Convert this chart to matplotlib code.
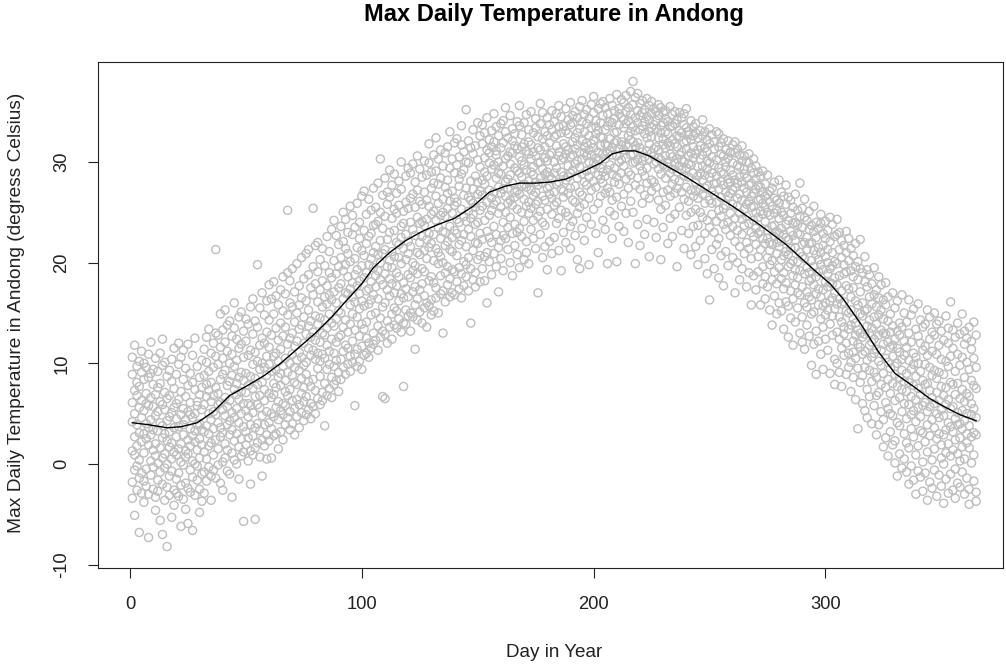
import matplotlib
matplotlib.use("Agg")
import matplotlib.pyplot as plt


# daily max temperatures, one row per day of the year (Jan 1 = day 1)
jan = [
    [4.2, -1.8, 8.9, 1.3, 6.1, -3.4, 10.6],
    [2.7, 7.3, -0.6, 5.0, 11.8, 0.9, -5.1],
    [3.9, 9.7, -2.6, 6.8, 1.8, -0.2, 8.1],
    [0.4, 5.6, 10.2, -1.4, 3.1, 7.7, -6.8],
    [6.3, -2.9, 2.2, 9.1, 4.6, -0.9, 11.2],
    [1.1, 8.4, -1.7, 5.3, 3.0, 10.0, -3.8],
    [-0.5, 4.0, 7.0, 2.5, 9.6, -2.2, 6.0],
    [5.8, 1.9, -3.0, 8.6, 3.6, -7.3, 10.9],
    [2.9, 6.6, -1.1, 0.3, 9.0, 4.4, 12.1],
    [-2.5, 3.4, 7.9, 1.4, 5.7, -0.3, 9.4],
    [4.8, 0.8, 10.5, -3.3, 6.9, 2.0, -4.6],
    [7.6, -1.6, 3.3, 9.2, 0.1, 5.2, -2.7],
    [1.6, 6.2, -0.8, 4.1, 11.0, 8.0, -5.6],
    [-2.0, 2.6, 5.9, 9.8, 0.6, 3.8, 12.4, -7.0],
    [3.0, 7.1, -3.6, 1.0, 5.4, 10.1, -0.4],
    [6.5, 0.0, 2.3, -2.3, 8.7, 4.3, -8.2],
    [-1.2, 4.7, 9.3, 1.7, 6.8, -3.1, 3.2],
    [2.1, 8.2, 5.1, -0.7, 10.4, 0.5, -5.3],
    [5.6, -2.6, 3.6, 7.5, 1.2, 11.5, -4.1],
    [0.9, 6.0, -1.5, 4.5, 8.9, 2.7, -2.9],
    [3.7, 9.9, 1.5, -0.9, 6.4, -3.2, 12.0],
    [7.2, 2.0, 4.9, -2.1, 0.2, 10.6, -6.2],
    [-0.1, 5.5, 8.4, 2.9, -3.5, 3.9, 11.3],
    [4.4, 1.3, 6.7, -1.9, 9.5, -4.5, 0.7],
    [2.4, 7.8, -2.4, 5.2, 11.9, 1.0, -5.9],
    [6.1, -0.6, 3.5, 9.0, 1.8, -2.8, 4.9],
    [0.3, 4.6, 8.1, -1.3, 10.8, 2.8, -6.6],
    [5.0, 2.2, -3.1, 7.4, 0.0, 12.5, 3.3],
    [-1.6, 3.9, 6.2, 9.7, 1.4, -0.2, 5.8],
    [4.0, 8.6, 0.6, -2.5, 6.9, 2.5, -4.8],
    [1.9, 5.4, 10.3, -1.0, 3.4, 7.6, -3.7],
]

feb = [
    [3.2, 8.8, -0.8, 5.9, 11.4, 1.2, -2.9],
    [6.7, 0.5, 10.1, 3.8, -1.7, 12.6, 7.9],
    [1.8, 5.0, 9.2, -0.3, 3.0, 7.3, 13.4],
    [8.1, -1.2, 4.4, 11.0, 2.1, 6.2, -3.6],
    [0.9, 6.8, 12.0, 3.5, 9.6, -0.6, 5.2],
    [4.9, 10.7, 2.4, 7.6, -1.4, 21.3, 13.0],
    [7.0, 1.5, 9.9, 4.1, 12.8, -0.1, 5.9],
    [2.7, 11.6, 6.1, -1.9, 8.4, 3.6, 14.9],
    [5.4, 0.2, 8.9, 13.3, 3.1, 10.5, -2.6],
    [9.3, 2.0, 6.6, 0.6, 12.1, 4.8, 15.3],
    [3.9, 7.8, -0.7, 11.2, 5.7, 1.4, 13.8],
    [6.3, 10.0, 2.9, 14.2, -1.0, 8.2, 4.3],
    [1.1, 5.1, 12.7, 8.8, 3.4, 10.9, -3.3],
    [7.4, 0.4, 4.6, 13.5, 9.7, 2.3, 16.0],
    [10.3, 3.0, 6.9, 0.0, 12.4, 5.5, 8.0],
    [4.1, 8.6, 1.7, 14.6, 6.4, -1.5, 11.5],
    [2.5, 11.9, 7.2, 5.0, 9.1, 0.8, 15.1],
    [6.0, 3.7, 13.2, -5.7, 8.3, 1.2, 10.6],
    [9.0, 1.9, 5.3, 12.2, 3.2, 14.4, 7.1],
    [4.7, 10.8, 0.3, 7.8, 2.6, 13.9, 6.0],
    [1.3, 8.7, 5.8, 15.6, 3.9, 11.3, -2.0],
    [7.5, 2.8, 12.9, 9.9, 0.9, 5.1, 16.4],
    [3.6, 11.1, -5.5, 6.7, 14.2, 8.5, 1.6],
    [10.2, 5.9, 2.1, 13.6, 7.9, 19.8, 4.0],
    [6.8, 0.7, 9.4, 3.3, 15.5, 11.8, 5.6],
    [2.4, 8.1, 12.5, 4.8, 10.0, -1.2, 17.0],
    [9.6, 3.9, 6.3, 14.8, 1.8, 12.0, 7.4],
    [5.2, 13.1, 2.9, 8.8, 16.2, 0.5, 10.7],
]

mar = [
    [4.1, 9.9, 14.3, 2.3, 7.0, 11.6, 17.8],
    [6.6, 12.8, 3.5, 16.4, 9.2, 0.6, 5.0],
    [10.7, 4.7, 8.0, 14.9, 2.8, 18.1, 6.9],
    [3.0, 7.6, 13.5, 11.0, 5.6, 16.7, 9.4],
    [8.6, 15.8, 4.4, 1.5, 12.3, 6.2, 10.2],
    [5.3, 11.4, 17.3, 7.8, 3.2, 14.0, 9.0],
    [12.7, 6.0, 9.7, 2.4, 15.2, 4.9, 18.6],
    [7.2, 13.6, 3.9, 10.5, 16.9, 8.3, 5.8],
    [4.6, 9.1, 14.8, 25.2, 6.8, 11.9, 19.0],
    [10.0, 3.4, 16.0, 7.4, 12.5, 5.2, 18.2],
    [6.3, 13.0, 8.8, 19.4, 4.0, 15.6, 10.9],
    [11.7, 5.5, 17.1, 8.1, 2.9, 14.1, 9.6],
    [7.9, 15.0, 4.7, 12.2, 19.9, 10.3, 6.4],
    [13.4, 9.3, 5.9, 17.7, 3.6, 11.1, 15.8],
    [5.1, 10.6, 16.5, 8.5, 13.8, 20.5, 7.0],
    [9.8, 14.6, 4.3, 12.0, 7.6, 18.4, 6.2],
    [12.9, 6.7, 16.2, 10.1, 20.9, 4.9, 8.9],
    [8.2, 15.3, 11.5, 5.4, 18.8, 13.7, 21.3],
    [6.0, 10.8, 17.5, 14.2, 7.7, 12.6, 4.5],
    [11.3, 16.8, 8.4, 25.4, 13.1, 5.7, 19.6],
    [14.7, 7.3, 10.4, 21.7, 5.0, 17.9, 12.3],
    [9.5, 13.9, 6.5, 19.1, 16.1, 11.0, 22.0],
    [12.1, 5.9, 17.3, 8.7, 14.5, 20.3, 10.2],
    [15.6, 10.9, 7.1, 21.4, 13.0, 18.2, 6.3],
    [8.0, 3.8, 16.6, 12.8, 19.7, 10.5, 14.3],
    [13.5, 17.7, 9.4, 6.8, 22.6, 11.8, 15.9],
    [11.2, 7.5, 19.0, 14.9, 9.9, 21.1, 16.8],
    [16.3, 12.4, 8.6, 23.3, 18.5, 6.6, 14.0],
    [9.7, 20.2, 13.7, 17.1, 11.0, 24.2, 7.9],
    [14.4, 8.3, 18.9, 12.1, 22.7, 16.0, 10.3],
    [12.6, 17.5, 9.1, 21.8, 15.2, 7.2, 19.6],
]

apr = [
    [15.0, 10.4, 20.5, 8.4, 17.9, 23.6, 12.8],
    [19.2, 13.6, 9.6, 22.1, 16.4, 11.2, 25.0],
    [11.8, 17.0, 21.4, 14.3, 8.9, 19.8, 24.3],
    [16.9, 9.9, 13.1, 23.0, 18.6, 11.5, 20.9],
    [13.9, 20.1, 10.7, 25.6, 15.8, 17.4, 9.2],
    [18.0, 12.2, 22.8, 14.9, 10.1, 24.7, 16.6],
    [10.9, 16.1, 5.8, 20.4, 13.3, 23.5, 18.8],
    [21.5, 14.6, 17.7, 11.4, 25.9, 19.3, 9.7],
    [15.4, 22.4, 12.7, 18.2, 10.2, 24.0, 16.9],
    [19.7, 11.7, 16.2, 26.6, 13.9, 21.2, 9.4],
    [13.4, 23.2, 18.5, 10.8, 20.7, 15.7, 27.1],
    [17.2, 11.0, 21.9, 14.1, 24.8, 19.0, 12.5],
    [22.6, 15.9, 12.0, 19.8, 26.3, 17.4, 10.6],
    [14.8, 20.4, 25.2, 11.5, 18.1, 22.9, 16.3],
    [19.5, 13.0, 23.7, 16.8, 27.4, 11.9, 21.0],
    [12.3, 18.7, 21.6, 15.0, 25.5, 17.6, 23.8],
    [24.1, 16.4, 13.7, 20.8, 11.3, 19.2, 27.9],
    [18.3, 22.2, 14.5, 30.3, 25.0, 12.6, 20.0],
    [15.6, 20.9, 6.7, 23.4, 17.8, 26.7, 13.2],
    [21.3, 12.9, 6.5, 18.9, 24.6, 16.0, 28.4],
    [14.2, 19.6, 25.8, 22.3, 12.0, 17.3, 27.0],
    [23.0, 16.7, 20.2, 13.6, 26.5, 18.4, 29.2],
    [17.9, 24.4, 14.9, 21.1, 12.4, 27.7, 19.5],
    [20.6, 13.8, 25.3, 17.0, 23.2, 15.5, 28.8],
    [15.2, 22.0, 19.0, 26.9, 13.5, 24.9, 17.7],
    [25.7, 18.6, 14.4, 21.8, 28.1, 16.2, 20.5],
    [19.9, 13.1, 23.6, 16.9, 27.3, 22.5, 30.0],
    [16.5, 21.4, 7.7, 25.1, 18.0, 14.0, 23.9],
    [22.8, 17.4, 28.6, 15.3, 20.3, 26.0, 13.9],
    [18.8, 25.4, 14.7, 22.1, 29.4, 16.6, 20.9],
]

may = [
    [21.6, 15.0, 26.4, 18.5, 13.2, 24.0, 28.9],
    [17.1, 23.3, 20.0, 29.8, 14.6, 26.8, 19.2],
    [25.5, 19.7, 15.8, 22.7, 28.0, 17.6, 11.4],
    [14.3, 21.0, 27.2, 18.9, 24.5, 16.4, 30.6],
    [23.9, 17.3, 20.8, 26.1, 15.1, 29.3, 22.0],
    [19.4, 25.8, 14.0, 22.6, 28.5, 17.9, 24.1],
    [27.0, 21.2, 16.7, 30.1, 19.1, 23.7, 15.5],
    [16.0, 24.3, 28.7, 20.4, 13.6, 26.2, 22.3],
    [22.9, 18.2, 25.6, 15.7, 29.9, 21.5, 31.8],
    [18.6, 27.4, 21.9, 24.8, 16.3, 29.0, 14.8],
    [25.1, 20.2, 15.2, 27.9, 22.8, 30.7, 18.0],
    [21.4, 29.1, 17.5, 24.2, 16.5, 26.6, 32.4],
    [15.0, 23.5, 27.8, 19.9, 25.9, 21.0, 30.3],
    [28.4, 18.7, 22.4, 31.2, 16.9, 24.7, 20.6],
    [20.0, 26.3, 17.2, 23.1, 29.6, 13.0, 25.0],
    [24.6, 19.0, 30.9, 21.7, 16.1, 27.5, 23.0],
    [17.8, 28.2, 22.1, 25.4, 19.6, 31.5, 26.9],
    [26.1, 21.3, 16.6, 29.4, 23.6, 18.4, 33.0],
    [22.5, 30.3, 19.3, 27.1, 17.0, 24.9, 21.1],
    [19.1, 25.7, 28.9, 16.8, 23.2, 31.9, 26.4],
    [29.7, 22.9, 18.1, 26.0, 20.7, 32.3, 24.3],
    [21.8, 27.6, 17.4, 30.5, 24.0, 19.5, 28.3],
    [25.3, 18.9, 31.7, 22.2, 28.8, 16.5, 33.6],
    [17.7, 24.6, 29.2, 20.1, 26.7, 31.0, 22.8],
    [27.4, 21.6, 35.2, 18.6, 24.1, 30.0, 19.8],
    [23.3, 29.9, 20.5, 26.5, 17.2, 32.1, 25.1],
    [19.4, 26.2, 31.4, 22.6, 28.1, 24.4, 14.0],
    [30.8, 24.8, 18.3, 27.3, 21.2, 33.2, 25.9],
    [22.0, 28.6, 25.5, 19.0, 31.6, 23.8, 17.6],
    [26.8, 20.3, 30.2, 24.0, 33.9, 21.9, 28.0],
    [18.1, 25.2, 29.5, 22.9, 27.1, 32.6, 20.7],
]

jun = [
    [28.2, 22.3, 31.8, 25.6, 19.4, 33.7, 26.7],
    [24.2, 30.4, 20.6, 27.8, 32.9, 18.2, 29.0],
    [31.2, 26.0, 23.1, 34.4, 21.0, 28.6, 16.0],
    [20.1, 27.2, 29.9, 24.7, 32.2, 22.5, 30.9],
    [26.4, 33.1, 22.0, 29.3, 18.8, 31.5, 25.2],
    [29.7, 23.6, 27.0, 20.9, 34.8, 25.8, 32.0],
    [22.8, 30.7, 26.1, 33.5, 28.4, 19.6, 31.1],
    [27.5, 21.5, 32.6, 24.9, 30.0, 17.1, 28.9],
    [33.8, 25.5, 28.8, 22.2, 31.4, 26.9, 20.4],
    [24.0, 29.6, 31.9, 27.3, 19.2, 34.1, 22.7],
    [30.3, 26.6, 22.4, 33.0, 28.0, 25.0, 35.4],
    [21.3, 28.3, 32.4, 25.9, 30.6, 23.5, 27.4],
    [28.7, 34.6, 24.5, 31.0, 20.0, 26.2, 29.8],
    [25.7, 30.9, 27.9, 22.9, 33.3, 18.7, 32.1],
    [32.8, 23.8, 29.4, 26.5, 21.7, 31.6, 27.0],
    [27.1, 31.3, 20.8, 34.0, 25.3, 29.1, 23.0],
    [23.4, 28.9, 33.6, 26.8, 30.5, 19.5, 35.6],
    [30.1, 25.0, 27.6, 32.7, 22.6, 28.5, 31.5],
    [26.3, 33.9, 24.1, 29.7, 20.3, 31.8, 27.8],
    [29.2, 22.1, 31.1, 25.6, 34.7, 27.5, 21.0],
    [24.9, 30.8, 28.1, 33.2, 26.0, 19.9, 32.0],
    [31.7, 27.2, 23.3, 29.0, 35.0, 25.4, 30.3],
    [22.4, 29.5, 32.9, 26.7, 31.0, 28.7, 24.2],
    [28.0, 33.4, 25.8, 30.6, 21.4, 34.3, 27.0],
    [17.0, 31.4, 27.7, 24.6, 29.9, 32.5, 26.1],
    [30.0, 25.1, 33.8, 28.4, 22.8, 31.2, 35.8],
    [26.6, 32.3, 29.3, 20.5, 27.9, 34.9, 24.0],
    [33.0, 28.8, 23.7, 31.5, 26.2, 30.4, 21.6],
    [25.3, 30.1, 34.4, 27.4, 32.6, 19.3, 29.0],
    [31.9, 26.8, 28.6, 33.7, 22.1, 30.7, 27.6],
]

jul = [
    [28.3, 33.2, 24.8, 30.9, 26.4, 35.1, 20.9],
    [32.5, 27.0, 30.0, 22.5, 34.0, 28.9, 25.7],
    [26.0, 31.6, 34.8, 29.4, 23.9, 32.7, 27.8],
    [30.6, 24.4, 28.0, 33.5, 21.2, 31.0, 35.6],
    [27.3, 32.9, 30.2, 25.2, 34.5, 29.0, 19.2],
    [33.6, 28.6, 26.5, 31.8, 23.0, 30.4, 27.1],
    [25.0, 30.8, 33.1, 28.2, 35.3, 22.0, 31.5],
    [31.2, 26.9, 29.6, 34.2, 24.6, 32.8, 28.5],
    [28.9, 33.7, 23.6, 30.5, 27.4, 35.9, 21.4],
    [32.0, 29.2, 26.2, 33.9, 30.7, 24.1, 34.6],
    [27.6, 31.3, 35.0, 29.8, 22.7, 32.4, 26.0],
    [30.1, 24.9, 32.9, 28.4, 34.4, 20.3, 31.7],
    [33.3, 29.5, 27.0, 35.5, 19.4, 31.0, 25.5],
    [26.7, 32.1, 30.3, 23.4, 34.0, 28.8, 36.1],
    [31.5, 28.0, 34.7, 25.8, 30.9, 33.0, 22.2],
    [29.1, 33.8, 24.5, 31.9, 27.7, 35.2, 30.6],
    [34.3, 26.4, 30.0, 19.8, 32.6, 28.5, 31.2],
    [27.2, 31.8, 35.7, 29.3, 33.4, 23.8, 30.7],
    [32.2, 29.9, 25.3, 34.9, 28.1, 31.4, 36.5],
    [30.4, 34.1, 27.5, 32.8, 22.9, 29.7, 33.5],
    [25.9, 31.0, 35.3, 28.7, 33.1, 30.1, 21.0],
    [33.9, 28.3, 31.6, 26.6, 35.8, 29.4, 32.5],
    [29.0, 32.4, 24.2, 34.6, 30.8, 27.9, 36.0],
    [31.8, 35.4, 28.6, 33.2, 23.3, 30.3, 26.9],
    [27.4, 33.6, 30.9, 19.9, 34.8, 31.6, 29.2],
    [34.0, 29.7, 32.3, 27.0, 36.3, 25.1, 31.1],
    [30.7, 26.2, 33.9, 31.4, 28.8, 35.6, 22.4],
    [32.9, 35.1, 29.4, 24.7, 31.9, 28.0, 34.3],
    [28.5, 33.0, 36.7, 30.6, 26.5, 32.1, 20.1],
    [35.3, 31.3, 27.8, 33.7, 30.0, 23.6, 34.8],
    [30.2, 34.4, 32.0, 28.9, 36.2, 25.6, 31.7],
]

aug = [
    [33.4, 29.6, 35.9, 31.2, 26.8, 34.2, 23.1],
    [31.7, 36.6, 28.3, 33.8, 30.4, 24.9, 35.0],
    [29.0, 32.6, 35.4, 27.4, 34.1, 22.0, 31.5],
    [34.7, 30.7, 26.1, 33.0, 37.0, 28.7, 32.2],
    [32.0, 38.0, 29.9, 35.7, 25.0, 33.5, 30.8],
    [27.7, 34.4, 31.6, 36.4, 30.0, 19.9, 33.1],
    [35.1, 30.2, 33.9, 28.4, 31.9, 23.8, 36.8],
    [31.4, 35.8, 27.3, 33.2, 29.6, 34.6, 21.7],
    [33.6, 29.1, 36.1, 31.0, 25.9, 34.9, 30.1],
    [28.6, 32.8, 35.2, 30.5, 34.0, 22.8, 26.7],
    [34.5, 31.1, 27.9, 36.3, 32.4, 29.4, 24.3],
    [30.3, 35.6, 33.0, 26.4, 31.8, 34.2, 20.6],
    [32.5, 28.2, 34.8, 30.9, 36.0, 27.1, 33.4],
    [29.8, 33.7, 31.3, 24.0, 35.3, 30.6, 28.0],
    [35.0, 30.0, 27.5, 33.3, 31.5, 22.5, 34.1],
    [31.2, 34.6, 29.3, 32.4, 26.2, 35.7, 30.4],
    [28.8, 32.9, 35.4, 30.2, 33.6, 25.3, 20.3],
    [33.9, 29.7, 31.7, 27.0, 34.9, 32.3, 23.5],
    [30.6, 35.1, 28.4, 33.0, 25.7, 31.4, 34.3],
    [27.2, 31.9, 34.0, 29.5, 32.8, 21.9, 30.0],
    [33.5, 28.9, 30.8, 35.5, 26.6, 31.6, 24.4],
    [29.3, 34.7, 32.2, 27.8, 30.5, 33.6, 22.6],
    [31.8, 26.9, 33.8, 29.9, 35.0, 24.8, 28.3],
    [34.2, 30.3, 27.4, 32.6, 29.0, 19.6, 31.5],
    [28.1, 32.5, 34.9, 30.7, 25.5, 33.1, 29.6],
    [32.9, 29.2, 31.0, 27.0, 34.4, 23.2, 30.2],
    [30.0, 33.7, 26.3, 31.9, 28.6, 34.8, 21.4],
    [27.5, 31.3, 33.4, 29.4, 24.7, 32.1, 35.3],
    [33.0, 28.5, 30.6, 26.1, 32.7, 22.9, 29.8],
    [29.7, 32.2, 27.2, 34.1, 30.9, 25.0, 20.8],
    [31.5, 26.6, 33.5, 28.9, 23.6, 30.4, 32.6],
]

sep = [
    [28.0, 32.9, 25.3, 30.8, 21.6, 33.8, 27.1],
    [31.2, 26.4, 29.5, 23.7, 32.4, 28.6, 19.8],
    [27.3, 30.3, 33.1, 25.0, 28.9, 22.2, 31.6],
    [32.6, 28.2, 24.5, 30.7, 26.8, 34.2, 29.6],
    [25.9, 31.4, 28.7, 22.9, 33.0, 27.4, 20.4],
    [30.1, 27.6, 32.2, 24.2, 29.3, 18.9, 31.0],
    [28.5, 16.3, 31.8, 26.2, 33.3, 23.5, 29.9],
    [24.8, 30.5, 27.1, 32.7, 21.3, 28.9, 25.9],
    [31.3, 26.7, 29.7, 23.0, 32.0, 19.4, 27.8],
    [27.9, 33.0, 24.1, 30.2, 26.0, 28.6, 21.8],
    [29.4, 25.2, 31.5, 22.4, 27.3, 32.8, 18.5],
    [26.5, 30.8, 28.1, 24.6, 31.9, 20.7, 29.0],
    [30.6, 23.8, 27.7, 32.3, 25.4, 28.8, 17.7],
    [25.7, 29.5, 31.2, 21.1, 27.0, 30.0, 23.3],
    [28.3, 24.0, 30.4, 26.6, 32.1, 19.7, 27.9],
    [31.0, 26.9, 22.7, 29.2, 24.9, 30.9, 28.0],
    [23.6, 28.7, 31.7, 25.8, 29.9, 20.5, 27.2],
    [27.5, 30.9, 24.4, 32.0, 22.1, 28.2, 17.0],
    [29.7, 25.6, 27.9, 23.2, 31.3, 26.4, 20.0],
    [24.9, 28.5, 30.7, 21.6, 26.8, 29.5, 18.3],
    [28.0, 22.8, 26.2, 30.1, 24.3, 31.6, 19.4],
    [25.3, 29.3, 23.7, 27.4, 20.9, 28.8, 30.6],
    [27.0, 24.6, 30.0, 22.0, 28.4, 25.8, 17.6],
    [29.9, 26.1, 21.4, 27.7, 23.9, 30.8, 19.0],
    [23.0, 27.9, 25.5, 29.4, 20.4, 26.6, 15.8],
    [26.9, 24.2, 28.9, 22.6, 30.3, 18.7, 25.6],
    [28.3, 21.8, 25.0, 27.3, 23.4, 29.6, 17.3],
    [24.5, 27.7, 20.6, 26.2, 29.0, 22.9, 19.1],
    [26.3, 23.1, 28.6, 21.3, 25.1, 15.8, 27.5],
    [22.4, 27.0, 24.8, 29.1, 19.6, 25.9, 17.9],
]

oct_ = [
    [25.5, 21.9, 27.8, 18.6, 24.1, 16.4, 26.6],
    [23.2, 26.8, 20.5, 28.7, 22.4, 17.6, 25.0],
    [27.1, 19.8, 24.7, 22.0, 26.0, 15.3, 21.2],
    [21.8, 25.6, 18.3, 27.4, 23.6, 20.2, 13.8],
    [24.9, 22.6, 28.0, 19.1, 26.4, 16.7, 23.7],
    [26.2, 20.9, 23.1, 17.9, 25.3, 22.0, 14.9],
    [22.9, 28.2, 19.5, 25.9, 21.6, 24.4, 16.0],
    [25.0, 18.4, 23.4, 27.0, 20.3, 15.2, 22.1],
    [20.7, 24.7, 26.6, 17.4, 22.8, 19.0, 13.4],
    [23.8, 21.1, 18.0, 25.8, 27.7, 16.1, 22.5],
    [26.5, 19.6, 22.3, 15.7, 24.2, 20.8, 12.6],
    [21.4, 24.9, 17.2, 23.1, 19.9, 26.2, 14.5],
    [18.7, 22.7, 25.5, 20.2, 16.4, 23.9, 11.8],
    [24.0, 17.8, 21.5, 26.8, 19.3, 14.1, 22.2],
    [20.1, 25.2, 18.5, 22.9, 15.5, 23.8, 17.0],
    [22.8, 19.2, 27.9, 16.8, 24.6, 21.0, 13.0],
    [17.6, 23.5, 20.6, 25.4, 14.6, 21.8, 12.1],
    [24.5, 18.9, 22.0, 16.0, 20.4, 26.3, 11.4],
    [19.5, 22.5, 17.1, 24.2, 13.8, 21.3, 15.6],
    [21.9, 16.6, 25.1, 19.0, 23.3, 12.7, 18.2],
    [18.4, 23.7, 20.2, 14.9, 22.0, 16.3, 9.8],
    [23.1, 17.8, 21.2, 25.6, 15.1, 19.6, 11.9],
    [16.9, 20.8, 24.0, 18.6, 13.2, 22.5, 8.9],
    [21.5, 15.8, 19.1, 23.4, 17.4, 12.2, 20.3],
    [19.8, 23.9, 14.4, 21.0, 16.6, 24.8, 10.9],
    [17.3, 21.7, 19.3, 13.6, 22.9, 15.7, 9.4],
    [22.4, 18.1, 16.0, 20.6, 12.4, 24.1, 14.8],
    [15.3, 20.0, 23.2, 17.6, 21.3, 11.3, 18.9],
    [19.4, 16.2, 22.1, 13.9, 24.5, 18.0, 9.0],
    [21.0, 14.7, 17.9, 23.8, 12.8, 19.7, 16.5],
    [17.0, 22.6, 15.4, 20.1, 10.4, 18.5, 7.9],
]

nov = [
    [19.9, 15.9, 22.8, 13.1, 17.8, 10.0, 24.3],
    [16.4, 21.3, 12.4, 18.7, 14.6, 23.0, 9.1],
    [20.5, 14.1, 17.2, 11.5, 22.2, 15.9, 7.7],
    [13.6, 18.9, 21.7, 16.1, 10.8, 19.8, 12.9],
    [17.7, 12.0, 15.2, 21.0, 8.9, 19.1, 23.1],
    [15.0, 20.2, 11.0, 17.4, 13.4, 22.4, 9.6],
    [19.2, 13.8, 16.6, 10.1, 21.4, 15.3, 7.2],
    [12.2, 17.5, 20.7, 14.4, 8.6, 18.6, 11.1],
    [16.2, 10.5, 14.0, 19.6, 12.8, 21.9, 6.4],
    [13.3, 18.3, 3.5, 15.8, 9.5, 20.1, 11.9],
    [17.1, 11.6, 14.9, 8.1, 19.4, 13.0, 22.3],
    [10.9, 16.0, 19.0, 12.6, 6.0, 14.7, 8.8],
    [15.2, 9.6, 12.9, 18.1, 11.2, 20.6, 5.3],
    [13.7, 17.6, 7.4, 15.4, 10.3, 19.3, 4.6],
    [9.3, 14.3, 18.8, 11.8, 16.6, 6.7, 13.0],
    [15.9, 10.6, 13.5, 8.2, 17.9, 12.1, 4.0],
    [12.4, 16.8, 9.1, 14.6, 5.8, 19.5, 11.0],
    [8.6, 13.9, 11.4, 17.3, 6.8, 15.6, 2.9],
    [14.8, 10.2, 7.1, 12.8, 16.5, 3.9, 18.6],
    [11.3, 15.3, 9.8, 5.2, 13.3, 17.8, 7.9],
    [9.0, 13.0, 16.3, 11.9, 4.4, 14.4, 1.7],
    [12.9, 7.6, 10.5, 15.8, 6.1, 18.0, 2.6],
    [10.1, 14.2, 5.5, 12.1, 8.4, 16.6, 0.8],
    [7.0, 11.6, 14.9, 9.5, 3.2, 13.1, 5.0],
    [11.8, 8.0, 13.7, 4.8, 10.7, 17.0, 1.9],
    [9.7, 6.3, 12.4, 15.5, 2.3, 8.9, 0.1],
    [13.2, 10.0, 4.1, 7.7, 16.2, 11.5, -1.2],
    [6.6, 11.1, 8.6, 14.0, 1.0, 12.8, 3.8],
    [10.4, 5.2, 13.6, 7.4, 9.3, 16.8, -0.4],
    [8.2, 12.2, 3.0, 10.8, 6.0, 15.0, 0.5],
]

dec = [
    [11.6, 7.2, 4.5, 14.1, 9.0, -0.8, 2.1],
    [5.9, 10.3, 13.0, 1.6, 8.1, 16.3, -2.0],
    [9.4, 3.5, 12.1, 6.7, -0.2, 14.8, 4.9],
    [7.8, 11.0, 2.7, 5.3, 15.4, 9.9, -1.6],
    [4.2, 8.7, 13.4, 0.9, 10.6, 6.4, -3.0],
    [10.0, 5.6, 1.8, 12.7, 7.5, 15.9, -0.7],
    [6.9, 12.0, 3.3, 9.2, -1.3, 14.3, 4.7],
    [3.1, 8.3, 11.3, 5.8, 0.2, 13.6, -2.7],
    [9.9, 6.1, 13.9, 2.2, 7.9, -0.9, 11.7],
    [5.2, 10.8, 1.2, 8.0, 15.3, 3.9, -3.6],
    [7.3, 2.8, 12.4, 5.7, -1.8, 9.6, 14.6],
    [11.2, 4.4, 0.4, 8.8, 6.6, 13.1, -2.4],
    [3.6, 9.3, 6.0, 12.8, 1.5, -0.6, 15.0],
    [8.5, 5.0, 10.9, 2.5, 13.9, 7.1, -3.2],
    [6.3, 11.8, 3.0, -1.1, 9.1, 4.6, 14.2],
    [10.4, 1.9, 7.7, 13.2, 5.4, -2.2, 0.6],
    [4.8, 8.9, 12.3, 0.0, 6.8, 2.9, -3.9],
    [7.6, 3.4, 10.2, 14.7, -1.5, 5.9, 1.1],
    [2.0, 9.7, 6.4, 12.0, 4.1, -2.9, 13.5],
    [8.1, 16.1, 3.7, 10.7, 0.8, 5.5, -1.0],
    [5.7, 11.5, 1.4, 7.9, 13.3, -2.6, 3.2],
    [9.2, 4.5, -0.5, 12.6, 6.9, 2.4, -3.4],
    [3.9, 8.0, 10.9, 1.0, 5.1, 14.0, -1.9],
    [6.5, 12.9, 2.6, 9.8, -2.3, 4.0, 0.3],
    [10.6, 5.3, 14.9, 1.7, 7.4, -0.8, 3.5],
    [4.3, 8.6, 0.5, 11.9, 6.2, -3.0, 13.2],
    [7.0, 2.1, 10.1, 5.0, -1.4, 12.5, 3.0],
    [1.6, 9.4, 6.7, 13.6, 3.8, -2.5, -4.0],
    [8.3, 4.9, 11.4, 0.1, 6.0, 2.7, 12.2],
    [5.5, 10.5, -1.7, 7.8, 3.1, 14.1, 0.9],
    [2.9, 7.5, 12.8, 4.6, -2.8, 9.6, -3.7],
]

# smoothed (lowess) curve
smooth_day = [
    1, 8, 16, 22, 29, 36, 43, 50, 58, 65, 72, 80, 87, 94, 100, 105, 112,
    119, 126, 133, 140, 148, 155, 162, 168, 175, 181, 188, 195, 203, 208,
    213, 218, 224, 230, 240, 251, 260, 272, 283, 295, 302, 308, 315, 323,
    330, 338, 345, 352, 358, 365,
]
smooth_temp = [
    4.1, 3.9, 3.6, 3.7, 4.1, 5.2, 6.8, 7.7, 8.8, 10.0, 11.4, 13.0, 14.6,
    16.4, 17.9, 19.5, 21.0, 22.2, 23.1, 23.8, 24.4, 25.6, 27.0, 27.6, 27.9,
    27.9, 28.0, 28.3, 29.0, 29.9, 30.8, 31.1, 31.1, 30.6, 29.8, 28.5, 26.9,
    25.6, 23.7, 21.8, 19.3, 17.9, 16.3, 14.0, 11.1, 9.0, 7.7, 6.5, 5.6,
    4.9, 4.3,
]

months = [jan, feb, mar, apr, may, jun, jul, aug, sep, oct_, nov, dec]


def flatten(month_rows):
    days = []
    temps = []
    day = 1
    for month in month_rows:
        for row in month:
            for value in row:
                days.append(day)
                temps.append(value)
            day += 1
    return days, temps


def main():
    plt.rcParams["font.family"] = ["Liberation Sans", "DejaVu Sans"]
    plt.rcParams["axes.unicode_minus"] = False

    days, temps = flatten(months)

    fig = plt.figure(figsize=(10.06, 6.65), dpi=100)
    ax = fig.add_axes([98 / 1006, 97 / 665, 905 / 1006, 506 / 665])

    ax.scatter(
        days,
        temps,
        s=34,
        facecolors="none",
        edgecolors="#bebebe",
        linewidths=1.0,
        zorder=1,
    )
    ax.plot(smooth_day, smooth_temp, color="black", linewidth=1.0, zorder=2)

    ax.set_xlim(-13.8, 376.6)
    ax.set_ylim(-10.33, 39.93)
    ax.set_xticks([0, 100, 200, 300])
    ax.set_yticks([-10, 0, 10, 20, 30])

    ax.tick_params(axis="both", direction="out", length=7, width=0.8,
                   labelsize=13.2, colors="#222222")
    ax.tick_params(axis="x", pad=13)
    ax.tick_params(axis="y", pad=13)
    for label in ax.get_yticklabels():
        label.set_rotation(90)
        label.set_verticalalignment("center")

    for spine in ax.spines.values():
        spine.set_linewidth(0.8)
        spine.set_color("#222222")

    fig.text(554 / 1006, 1 - 21 / 665, "Max Daily Temperature in Andong",
             ha="center", va="baseline", fontsize=17, fontweight="bold")
    fig.text(554 / 1006, 1 - 657 / 665, "Day in Year",
             ha="center", va="baseline", fontsize=13.6, color="#222222")
    fig.text(17 / 1006, 1 - 313 / 665,
             "Max Daily Temperature in Andong (degress Celsius)",
             ha="center", va="center", rotation=90, fontsize=13.8,
             color="#222222")

    fig.savefig("out.png", dpi=100)
    plt.close(fig)


if __name__ == "__main__":
    main()
